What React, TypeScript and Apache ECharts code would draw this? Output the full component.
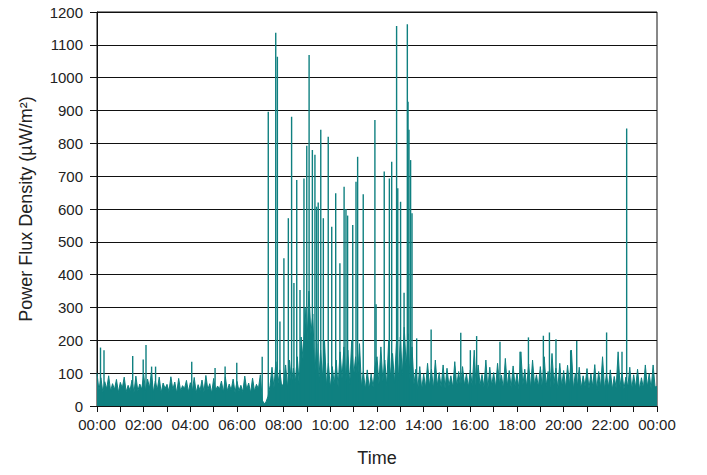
import React, { useEffect, useRef } from 'react';
import * as echarts from 'echarts';

// Samples every 5 minutes (values in µW/m²)
const base00_04 = [
  100, 48, 86, 42, 74, 52, 92, 45, 68, 50, 81, 41,
  72, 54, 88, 43, 63, 47, 79, 40, 91, 46, 67, 51,
  96, 44, 82, 55, 105, 42, 76, 49, 88, 40, 70, 53,
  66, 44, 89, 50, 73, 39, 84, 46, 62, 53, 78, 43,
];
const base04_08 = [
  71, 45, 87, 41, 65, 47, 79, 43, 93, 50, 68, 39,
  84, 47, 61, 52, 76, 42, 89, 46, 67, 48, 82, 41,
  75, 46, 63, 43, 91, 50, 70, 40, 85, 45, 66, 52,
  95, 18, 6, 14, 30, 62, 118, 55, 135, 64, 110, 58,
];
const base08_12 = [
  70, 125, 55, 140, 65, 115, 75, 150, 66, 210, 140, 300,
  190, 350, 220, 280, 95, 190, 70, 170, 85, 200, 62, 130,
  55, 120, 66, 140, 58, 165, 84, 180, 75, 170, 66, 200,
  92, 150, 74, 190, 58, 105, 50, 110, 52, 98, 57, 120,
];
const base12_16 = [
  150, 66, 180, 75, 140, 62, 200, 84, 160, 70, 190, 78,
  210, 92, 240, 120, 220, 76, 180, 66, 112, 52, 120, 50,
  98, 55, 130, 60, 112, 52, 140, 62, 102, 57, 125, 53,
  115, 61, 92, 56, 135, 60, 105, 54, 120, 63, 98, 57,
];
const base16_20 = [
  110, 60, 170, 54, 125, 64, 96, 58, 140, 52, 118, 62,
  102, 56, 130, 65, 94, 53, 145, 60, 108, 55, 122, 61,
  99, 52, 165, 63, 112, 57, 128, 54, 140, 64, 95, 58,
  120, 53, 150, 60, 105, 56, 160, 65, 115, 52, 130, 59,
];
const base20_24 = [
  108, 55, 124, 61, 170, 52, 100, 58, 118, 54, 92, 60,
  114, 53, 98, 58, 126, 50, 105, 56, 150, 52, 96, 57,
  110, 50, 90, 55, 165, 59, 102, 52, 88, 57, 118, 51,
  95, 56, 112, 50, 86, 54, 125, 58, 99, 52, 125, 58,
];
const endValue = 60;

// Isolated narrow spikes: [hour of day, value]
const spikes: [number, number][] = [
  [0.15, 178], [0.3, 170], [1.53, 152], [1.98, 142], [2.1, 186], [2.34, 120],
  [2.51, 120], [4.06, 135], [5.06, 116], [5.49, 120], [5.99, 132], [7.08, 150],
  [7.34, 896], [7.66, 1137], [7.73, 1064], [7.84, 257], [8.01, 450], [8.2, 572],
  [8.34, 881], [8.44, 375], [8.56, 688], [8.7, 353], [8.87, 693], [8.99, 793],
  [9.09, 1069], [9.23, 780], [9.34, 765], [9.41, 607], [9.48, 620], [9.59, 841],
  [9.7, 572], [9.91, 820], [10.06, 546], [10.23, 648], [10.41, 435], [10.59, 668],
  [10.67, 600], [10.74, 580], [10.96, 551], [11.1, 683], [11.17, 759], [11.41, 645],
  [11.91, 871], [11.96, 310], [12.31, 714], [12.53, 693], [12.63, 744], [12.84, 1157],
  [12.89, 663], [13.01, 622], [13.16, 345], [13.3, 1163], [13.33, 927], [13.37, 841],
  [13.44, 749], [13.5, 587], [13.7, 206], [14.32, 233], [15.59, 223], [16.0, 170],
  [16.27, 213], [17.27, 196], [18.13, 165], [18.49, 209], [19.13, 214], [19.39, 224],
  [19.67, 203], [20.3, 170], [20.56, 198], [21.84, 224], [22.5, 165], [22.7, 845],
];

const blockStarts = [0, 4, 8, 12, 16, 20];
const blocks = [base00_04, base04_08, base08_12, base12_16, base16_20, base20_24];
const STEP = 5 / 60;

function buildBase(): [number, number][] {
  const pts: [number, number][] = [];
  blocks.forEach((arr, b) => {
    arr.forEach((v, i) => pts.push([blockStarts[b] + i * STEP, v]));
  });
  pts.push([24, endValue]);
  return pts;
}

const FONT = '"Liberation Sans", Arial, sans-serif';
const TEAL = '#0f8080';

export default function App() {
  const ref = useRef<HTMLDivElement>(null);
  useEffect(() => {
    const chart = echarts.init(ref.current!, null, { renderer: 'svg' });
    chart.setOption({
      animation: false,
      grid: {
        left: 97, right: 50, top: 12, bottom: 69,
        show: true, borderColor: '#111', borderWidth: 1, backgroundColor: 'transparent',
      },
      xAxis: {
        type: 'value', min: 0, max: 24, interval: 1,
        name: 'Time', nameLocation: 'middle', nameGap: 43,
        nameTextStyle: { fontFamily: FONT, fontSize: 18, color: '#222' },
        axisLine: { show: true, lineStyle: { color: '#111', width: 1 } },
        axisTick: { show: true, length: 6, lineStyle: { color: '#111' } },
        splitLine: { show: false },
        axisLabel: {
          fontFamily: FONT, fontSize: 15, color: '#222', margin: 11,
          formatter: (v: number) =>
            v % 2 === 0 ? String(v % 24).padStart(2, '0') + ':00' : '',
        },
      },
      yAxis: {
        type: 'value', min: 0, max: 1200, interval: 100,
        name: 'Power Flux Density (µW/m²)', nameLocation: 'middle', nameGap: 62,
        nameTextStyle: { fontFamily: FONT, fontSize: 18, color: '#222' },
        axisLine: { show: true, lineStyle: { color: '#111', width: 1 } },
        axisTick: { show: true, length: 7, lineStyle: { color: '#111' } },
        splitLine: { show: true, lineStyle: { color: '#111', width: 1 } },
        axisLabel: {
          fontFamily: FONT, fontSize: 15, color: '#222', margin: 14,
          formatter: (v: number) => String(v),
        },
      },
      series: [
        {
          type: 'line',
          data: buildBase(),
          showSymbol: false,
          symbol: 'none',
          lineStyle: { color: TEAL, width: 1 },
          areaStyle: { color: TEAL, opacity: 1 },
          itemStyle: { color: TEAL },
          z: 2,
        },
        {
          type: 'bar',
          data: spikes,
          barWidth: 1.4,
          itemStyle: { color: TEAL },
          z: 3,
        },
      ],
    });
    return () => chart.dispose();
  }, []);
  return (
    <div
      ref={ref}
      style={{ position: 'fixed', left: 0, top: 0, width: 707, height: 475, background: '#fff' }}
    />
  );
}
